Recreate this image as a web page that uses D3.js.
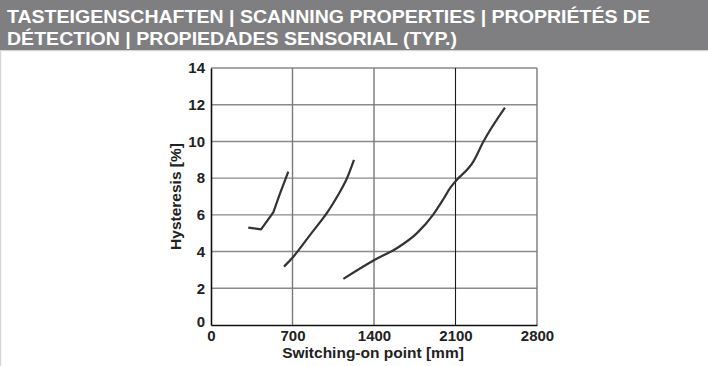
<!DOCTYPE html>
<html>
<head>
<meta charset="utf-8">
<script src="https://cdn.jsdelivr.net/npm/d3@7"></script>
<style>
  html, body { margin: 0; padding: 0; background: #fff; }
  svg { display: block; }
  text { font-family: "Liberation Sans", Arial, Helvetica, sans-serif; font-weight: bold; }
</style>
</head>
<body>
<svg id="chart" width="708" height="366"></svg>
<script>
// Header lines
const titleLines = [
  "TASTEIGENSCHAFTEN | SCANNING PROPERTIES | PROPRIÉTÉS DE",
  "DÉTECTION | PROPIEDADES SENSORIAL (TYP.)"
];
const titleWidths = [643, 450];

// Axis ticks
const xTicks = [0, 700, 1400, 2100, 2800];
const yTicks = [0, 2, 4, 6, 8, 10, 12, 14];
const xLabel = "Switching-on point [mm]";
const yLabel = "Hysteresis [%]";

// Hysteresis curves: switching-on point [mm] vs hysteresis [%]
const curveShortX = [320, 430, 535, 593, 664];
const curveShortY = [5.30, 5.21, 6.14, 7.17, 8.35];

const curveMidX = [627, 707, 850, 993, 1108, 1165, 1228];
const curveMidY = [3.18, 3.72, 4.90, 6.08, 7.26, 7.95, 8.99];

const curveLongX = [1137, 1403, 1595, 1767, 1910, 1995, 2053, 2096, 2253, 2339, 2525];
const curveLongY = [2.51, 3.54, 4.18, 4.99, 6.03, 6.85, 7.45, 7.80, 8.90, 9.98, 11.84];

(function () {
  const svg = d3.select("#chart");

  // Title band
  svg.append("rect").attr("x", 0).attr("y", 0).attr("width", 708).attr("height", 50).attr("fill", "#7f7f81");
  svg.append("rect").attr("x", 0).attr("y", 50).attr("width", 708).attr("height", 1.2).attr("fill", "#d4d4d4");
  svg.append("rect").attr("x", 0).attr("y", 50).attr("width", 1.2).attr("height", 316).attr("fill", "#d4d4d4");

  svg.selectAll("text.title").data(titleLines).join("text")
    .attr("class", "title")
    .attr("x", 7)
    .attr("y", (d, i) => 22.5 + i * 22.5)
    .attr("fill", "#fff")
    .attr("font-size", 18)
    .attr("textLength", (d, i) => titleWidths[i])
    .attr("lengthAdjust", "spacingAndGlyphs")
    .text(d => d);

  // Plot area
  const plotL = 211, plotR = 537, plotT = 68, plotB = 325;
  const x = d3.scaleLinear().domain([0, 2800]).range([plotL, plotR]);
  const y = d3.scaleLinear().domain([0, 14]).range([plotB, plotT]);

  const grid = svg.append("g");
  grid.selectAll("line.h").data(yTicks.filter(v => v > 0)).join("line")
    .attr("class", "h")
    .attr("x1", plotL).attr("x2", plotR)
    .attr("y1", d => y(d)).attr("y2", d => y(d))
    .attr("stroke", "#8a8a8a").attr("stroke-width", 1.4);
  grid.selectAll("line.v").data(xTicks.filter(v => v > 0)).join("line")
    .attr("class", "v")
    .attr("y1", plotT).attr("y2", plotB)
    .attr("x1", d => x(d)).attr("x2", d => x(d))
    .attr("stroke", d => d === 2100 ? "#1a1a1a" : "#7a7a7a")
    .attr("stroke-width", d => d === 2100 ? 1.1 : 1.4);

  // Axes
  const fmt = d3.format("d");
  const xAxis = svg.append("g").attr("transform", `translate(0,${plotB})`)
    .call(d3.axisBottom(x).tickValues(xTicks).tickFormat(fmt).tickSize(0).tickPadding(4));
  const yAxis = svg.append("g").attr("transform", `translate(${plotL},0)`)
    .call(d3.axisLeft(y).tickValues(yTicks).tickFormat(fmt).tickSize(0).tickPadding(6));
  [xAxis, yAxis].forEach(g => {
    g.select(".domain").attr("stroke", "#111").attr("stroke-width", 1.6);
    g.selectAll("text").attr("font-size", 15).attr("fill", "#222")
      .attr("font-family", "'Liberation Sans', Arial, sans-serif").attr("font-weight", "bold");
  });
  xAxis.selectAll("text").attr("dy", "0.8em");
  yAxis.selectAll("text").filter(d => d === 0).attr("dy", "0.1em");

  // Axis titles
  svg.append("text")
    .attr("x", 373).attr("y", 358)
    .attr("text-anchor", "middle").attr("font-size", 15.5).attr("fill", "#222")
    .text(xLabel);
  svg.append("text")
    .attr("transform", `translate(181,${(plotT + plotB) / 2}) rotate(-90)`)
    .attr("text-anchor", "middle").attr("font-size", 15.5).attr("fill", "#222")
    .text(yLabel);

  // Curves
  const series = [
    { xs: curveShortX, ys: curveShortY, curve: d3.curveLinear },
    { xs: curveMidX, ys: curveMidY, curve: d3.curveCatmullRom },
    { xs: curveLongX, ys: curveLongY, curve: d3.curveMonotoneX }
  ];
  series.forEach(s => {
    const pts = s.xs.map((v, i) => [v, s.ys[i]]);
    svg.append("path")
      .attr("d", d3.line().x(d => x(d[0])).y(d => y(d[1])).curve(s.curve)(pts))
      .attr("fill", "none").attr("stroke", "#333").attr("stroke-width", 2.2)
      .attr("stroke-linejoin", "round");
  });
})();
</script>
</body>
</html>
